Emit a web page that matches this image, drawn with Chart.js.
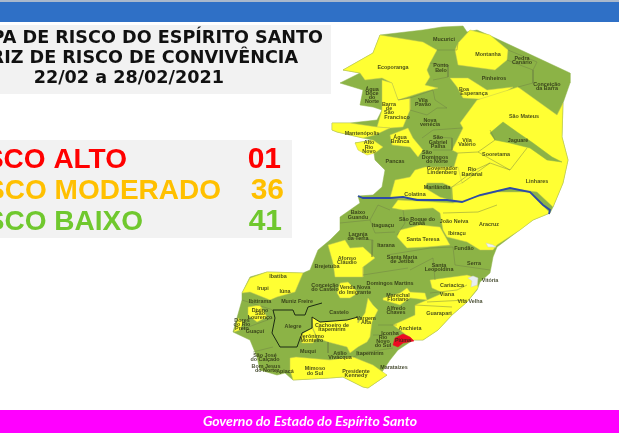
<!DOCTYPE html>
<html lang="pt">
<head>
<meta charset="utf-8">
<title>Mapa de risco do Espírito Santo</title>
<script src="https://cdn.jsdelivr.net/npm/chart.js@4"></script>
<style>
  html, body { margin: 0; padding: 0; background: #fff; overflow: hidden; }
  #mapa { display: block; filter: blur(0.55px); }
</style>
</head>
<body>
<canvas id="mapa" width="619" height="433"></canvas>
<script>
// ── Dados ─────────────────────────────────────────────────────────────────
const titulo = ['MAPA DE RISCO DO ESPÍRITO SANTO', 'MATRIZ DE RISCO DE CONVIVÊNCIA', '22/02 a 28/02/2021'];
const categorias = ['RISCO ALTO', 'RISCO MODERADO', 'RISCO BAIXO'];
const contagens = ['01', '36', '41'];
const rodape = 'Governo do Estado do Espírito Santo';

// contorno do estado, em unidades do mapa
const contorno = [[380,35],[423,30],[442,27],[463,26],[467,32],[477,30],[493,37],[570,73],[570,83],[563,103],[562,137],[568,160],[563,183],[553,207],[550,213],[533,220],[497,247],[493,257],[490,273],[480,282],[477,290],[467,302],[452,315],[438,330],[423,340],[413,340],[398,350],[390,360],[378,378],[387,375],[368,388],[363,387],[343,377],[330,378],[293,380],[285,373],[277,375],[260,370],[257,357],[250,340],[233,332],[242,300],[242,293],[250,277],[267,272],[303,273],[310,270],[318,250],[330,240],[340,230],[340,217],[360,203],[358,196],[373,195],[382,187],[385,170],[375,160],[373,147],[355,143],[373,140],[363,138],[337,132],[332,130],[332,123],[350,123],[377,120],[382,110],[373,107],[360,105],[363,90],[340,83],[360,73],[343,70],[373,53]];

// municípios em risco moderado
const ecoporanga = [[380,35],[423,42],[437,50],[430,63],[427,70],[430,77],[425,85],[438,88],[423,92],[398,100],[392,83],[382,78],[365,80],[360,73],[343,70],[373,53]];
const barraSaoFrancisco = [[382,80],[392,83],[398,100],[410,98],[410,110],[403,127],[390,128],[377,127],[382,110]];
const mantenopolis = [[332,123],[350,123],[377,127],[390,128],[375,135],[363,138],[337,132],[332,130]];
const altoRioNovo = [[355,143],[373,140],[383,147],[375,153],[367,155],[358,150]];
const aguaBranca = [[390,135],[408,128],[413,138],[423,150],[418,157],[410,147],[392,145]];
const montanha = [[458,43],[470,30],[490,35],[508,50],[507,60],[495,70],[458,65],[455,50]];
const boaEsperanca = [[450,78],[468,78],[487,90],[513,87],[493,100],[463,98],[457,87]];
const saoMateus = [[518,87],[557,115],[563,103],[562,137],[568,160],[563,183],[553,207],[537,192],[510,188],[480,195],[462,202],[453,200],[452,187],[443,183],[453,170],[458,153],[452,150],[463,128],[460,123],[477,100]];
const colatina = [[390,198],[395,180],[410,177],[415,170],[425,167],[458,167],[462,183],[452,187],[443,183],[427,183],[425,188],[440,197],[450,200]];
const aracruz = [[392,208],[398,200],[453,203],[497,192],[530,192],[550,213],[533,220],[520,230],[497,245],[493,250],[480,250],[467,242],[447,237],[443,230],[440,213],[433,208],[403,210]];
const santaTeresa = [[397,237],[400,230],[420,225],[440,227],[450,245],[427,247],[407,248]];
const afonsoClaudio = [[328,245],[345,240],[350,248],[363,247],[375,258],[363,267],[363,277],[335,277],[333,263]];
const guarapari = [[430,280],[467,275],[477,278],[478,288],[467,302],[452,315],[438,330],[423,340],[413,340],[405,334],[393,325],[415,315],[415,305],[427,300],[443,293],[432,288]];
const marechalFloriano = [[383,298],[400,293],[407,288],[410,292],[425,293],[427,300],[410,298],[400,305],[383,300]];
const vendaNova = [[340,283],[348,282],[353,287],[358,293],[350,298],[340,298],[337,293]];
const cachoeiro = [[312,317],[320,322],[347,320],[358,317],[358,323],[365,313],[368,298],[373,305],[378,310],[372,322],[370,337],[367,342],[358,347],[350,353],[347,347],[328,342],[317,338],[313,328]];
const jeronimoMonteiro = [[300,335],[312,328],[317,338],[313,343],[302,343]];
const mimosoKennedy = [[290,358],[296,357],[330,360],[353,357],[373,365],[387,375],[368,388],[363,387],[343,377],[330,378],[293,380],[290,370]];
const iuna = [[242,293],[250,278],[267,272],[303,273],[295,292],[277,297],[270,300],[250,292]];
const divinoSaoLourenco = [[248,307],[260,305],[267,317],[257,322],[248,315]];
const doresRioPreto = [[238,318],[243,322],[240,330],[234,332]];
const moderados = [ecoporanga, barraSaoFrancisco, mantenopolis, altoRioNovo, aguaBranca, montanha, boaEsperanca, saoMateus, colatina, aracruz, santaTeresa, afonsoClaudio, guarapari, marechalFloriano, vendaNova, cachoeiro, jeronimoMonteiro, mimosoKennedy, iuna, divinoSaoLourenco, doresRioPreto];

// áreas que ficam verdes dentro de um polígono amarelo
const jaguare = [[490,133],[503,122],[517,132],[533,143],[552,157],[562,162],[547,160],[530,148],[510,143],[495,140]];
const piuma = [[393,345],[395,338],[403,334],[410,337],[414,341],[403,343],[398,347]];

// baías e estuários em branco
const baiaVitoria = [[468,278],[473,276],[478,278],[477,285],[471,287],[472,281]];
const estuario = [[486,243],[493,245],[496,247],[488,247]];

// divisas municipais
const divisas = [
  [[437,50],[457,50],[458,43]],
  [[430,63],[448,65],[448,77],[433,80]],
  [[507,60],[533,70],[533,83],[518,87]],
  [[508,50],[537,62],[533,70]],
  [[398,100],[410,98],[433,90],[435,100],[447,108],[437,108],[427,115],[410,110]],
  [[422,138],[433,130],[462,128]],
  [[433,137],[452,138],[452,150],[433,150]],
  [[490,130],[495,140],[478,152],[510,170],[527,148]],
  [[510,170],[490,163]],
  [[340,223],[370,220],[378,205],[390,210]],
  [[370,220],[375,233],[395,232]],
  [[350,238],[373,240],[372,257]],
  [[403,210],[405,223],[397,235]],
  [[387,255],[430,248],[453,247],[455,265]],
  [[410,270],[433,258],[435,280]],
  [[363,275],[408,268]],
  [[455,265],[490,270]],
  [[328,342],[328,353]],
  [[373,335],[393,335],[402,330]],
  [[378,325],[397,325]],
  [[353,357],[367,352],[393,348]],
  [[242,300],[273,310]],
  [[240,330],[273,318]],
  [[253,352],[273,347]],
  [[430,293],[457,290],[467,285]],
  [[427,302],[467,300]],
  [[415,305],[452,307]],
  [[443,213],[478,212],[497,205]],
  [[452,187],[475,170],[490,163]],
  [[458,153],[478,152]],
  [[462,183],[490,163]]
];

// limite da microrregião, em traço escuro
const limiteSul = [[322,303],[308,307],[305,315],[295,315],[293,310],[273,310],[275,318],[272,333],[280,347],[297,347],[302,333],[312,328],[312,317],[320,322],[347,320],[358,317]];
const rioDoce = [[358,196],[363,198],[390,198],[403,197],[417,200],[447,200],[462,202],[480,195],[510,188],[530,192],[543,205],[550,210],[549,214]];

const rotulos = [
  ['Mucurici',444,39],['Montanha',488,54],['Pedra',522,58],['Canário',522,62],['Ecoporanga',393,67],
  ['Ponto',441,65],['Belo',441,70],['Pinheiros',494,78],['Boa',464,89],['Esperança',474,93],
  ['Conceição',547,84],['da Barra',547,88],['Água',372,89],['Doce',372,93],['do',372,97],['Norte',372,101],
  ['Vila',423,100],['Pavão',423,104],['Barra',389,104],['de',389,108],['São',389,112],['Francisco',397,117],
  ['São Mateus',524,116],['Nova',430,120],['venécia',430,124],['Mantenópolis',362,133],['Água',400,137],['Branca',400,141],
  ['São',438,137],['Gabriel',438,142],['Palha',438,146],['Vila',467,140],['Valério',467,144],['Jaguaré',518,140],
  ['Alto',369,142],['Rio',369,147],['Novo',369,151],['Pancas',395,161],['São',427,152],['Domingos',435,157],['do Norte',437,161],
  ['Sooretama',496,154],['Governador',442,168],['Lindenberg',442,172],['Rio',472,169],['Bananal',472,174],['Linhares',537,181],
  ['Marilândia',437,187],['Colatina',415,194],['Baixo',358,212],['Guandu',358,217],['São Roque do',417,219],['Canaã',417,223],
  ['João Neiva',454,221],['Ibiraçu',457,233],['Aracruz',489,224],['Itaguaçu',383,225],['Laranja',358,234],['da Terra',358,238],
  ['Santa Teresa',423,239],['Itarana',386,245],['Fundão',464,248],['Serra',474,263],['Afonso',347,258],['Cláudio',347,262],
  ['Santa Maria',402,257],['de Jetibá',402,261],['Santa',439,265],['Leopoldina',439,269],['Domingos Martins',390,283],
  ['Cariacica',452,285],['Vitória',490,280],['Viana',447,294],['Vila Velha',470,301],['Brejetuba',327,266],
  ['Conceição',325,285],['do Castelo',325,289],['Venda Nova',355,287],['do Imigrante',355,292],['Marechal',398,295],['Floriano',398,299],
  ['Alfredo',396,308],['Chaves',396,312],['Guarapari',439,313],['Castelo',339,312],['Vargem',366,318],['Alta',366,322],
  ['Anchieta',410,328],['Iconha',390,333],['Rio',383,337],['Novo',383,341],['do Sul',383,345],['Piúma',403,340],
  ['Cachoeiro de',332,325],['Itapemirim',332,329],['Itapemirim',370,353],['Marataízes',394,367],['Presidente',356,371],['Kennedy',356,375],
  ['Mimoso',315,368],['do Sul',315,373],['Muqui',308,351],['Atílio',340,353],['Vivácqua',340,357],['Jerônimo',312,336],['Monteiro',312,340],
  ['Alegre',293,326],['Guaçuí',255,331],['Ibitirama',260,301],['Muniz Freire',297,301],['Irupi',263,288],['Iúna',285,291],['Ibatiba',278,276],
  ['Divino',260,310],['São',260,313],['Lourenço',260,317],['Dores',242,320],['do Rio',242,324],['Preto',242,328],
  ['São José',265,355],['do Calçado',265,359],['Bom Jesus',266,366],['do Norte',266,370],['Apiacá',285,371]
];

// ── Plugin: preenche os polígonos e desenha faixas e textos ───────────────
const mapaPlugin = {
  id: 'mapaPlugin',
  beforeDatasetsDraw(chart) {
    const { ctx, scales: { x, y } } = chart;
    const faixa = (x0, y0, x1, y1, cor) => {
      ctx.fillStyle = cor;
      ctx.fillRect(x.getPixelForValue(x0), y.getPixelForValue(y0),
        x.getPixelForValue(x1) - x.getPixelForValue(x0), y.getPixelForValue(y1) - y.getPixelForValue(y0));
    };
    faixa(0, 0, 619, 2, '#a9b8cc');
    faixa(0, 2, 619, 22, '#2f70c6');
    faixa(0, 25, 331, 94, '#f2f2f2');
    faixa(0, 140, 292, 238, '#f2f2f2');
    faixa(0, 410, 619, 433, '#ff00ff');
  },
  beforeDatasetDraw(chart, args) {
    const ds = chart.data.datasets[args.index];
    if (!ds.preencher) return;
    const ctx = chart.ctx;
    const pts = args.meta.data;
    ctx.save();
    ctx.beginPath();
    pts.forEach((p, i) => i ? ctx.lineTo(p.x, p.y) : ctx.moveTo(p.x, p.y));
    ctx.closePath();
    ctx.fillStyle = ds.preencher;
    ctx.fill();
    ctx.restore();
  },
  afterDatasetsDraw(chart) {
    const { ctx, scales: { x, y } } = chart;
    const texto = (t, px, py, fonte, cor, alinhar) => {
      ctx.font = fonte;
      ctx.fillStyle = cor;
      ctx.textAlign = alinhar;
      ctx.textBaseline = 'alphabetic';
      ctx.fillText(t, x.getPixelForValue(px), y.getPixelForValue(py));
    };
    ctx.save();
    const fonteTitulo = 'bold 17.6px "DejaVu Sans"';
    texto(titulo[0], 323, 42.5, fonteTitulo, '#111', 'right');
    texto(titulo[1], 298, 62.5, fonteTitulo, '#111', 'right');
    texto(titulo[2], 224, 83, fonteTitulo, '#111', 'right');

    const coresRisco = ['#ff0000', '#ffc000', '#70c82e'];
    const fimRisco = [127, 221, 143];
    const fimConta = [281, 284, 282];
    const baseRisco = [168, 199, 230];
    const fonteRisco = 'bold 28px "Liberation Sans"';
    categorias.forEach((c, i) => {
      texto(c, fimRisco[i], baseRisco[i], fonteRisco, coresRisco[i], 'right');
      texto(contagens[i], fimConta[i], baseRisco[i], 'bold 30px "Liberation Sans"', coresRisco[i], 'right');
    });

    rotulos.forEach(([nome, rx, ry]) => {
      texto(nome, rx, ry + 1.8, 'bold 5.4px "Liberation Sans"', 'rgba(45,50,20,0.85)', 'center');
    });

    texto(rodape, 310, 426, 'italic bold 14px Lato', '#ffffff', 'center');
    ctx.restore();
  }
};

// ── Gráfico ───────────────────────────────────────────────────────────────
const pontos = (lista, fechar) => {
  const p = lista.map(([x, y]) => ({ x, y }));
  if (fechar) p.push(p[0]);
  return p;
};
const poligono = (lista, cor, borda) => ({ data: pontos(lista, true), preencher: cor, borderColor: borda, borderWidth: 0.5 });
const traco = (lista, cor, largura) => ({ data: pontos(lista, false), borderColor: cor, borderWidth: largura });

const VERDE = '#8cb346';
const AMARELO = '#ffff33';

const camadas = [
  poligono(contorno, VERDE, VERDE),
  ...moderados.map(m => poligono(m, AMARELO, '#c5c850')),
  poligono(jaguare, VERDE, VERDE),
  poligono(piuma, '#ee0a22', '#ee0a22'),
  poligono(baiaVitoria, '#e8eef0', '#c9ced0'),
  poligono(estuario, '#f4f6f0', '#c9ced0'),
  ...divisas.map(d => traco(d, 'rgba(110,125,70,0.75)', 0.6)),
  traco(limiteSul, '#1c2a14', 1),
  traco(rioDoce, '#2d4aa6', 1.8)
];
camadas.forEach((c, i) => { c.order = -i; });

new Chart(document.getElementById('mapa'), {
  type: 'scatter',
  data: { datasets: camadas },
  options: {
    responsive: false,
    animation: false,
    devicePixelRatio: 1,
    layout: { padding: 0 },
    showLine: true,
    elements: { point: { radius: 0, hoverRadius: 0 }, line: { tension: 0 } },
    plugins: { legend: { display: false }, tooltip: { enabled: false } },
    scales: {
      x: { type: 'linear', min: 0, max: 619, display: false },
      y: { type: 'linear', min: 0, max: 433, reverse: true, display: false }
    }
  },
  plugins: [mapaPlugin]
});
</script>
</body>
</html>
